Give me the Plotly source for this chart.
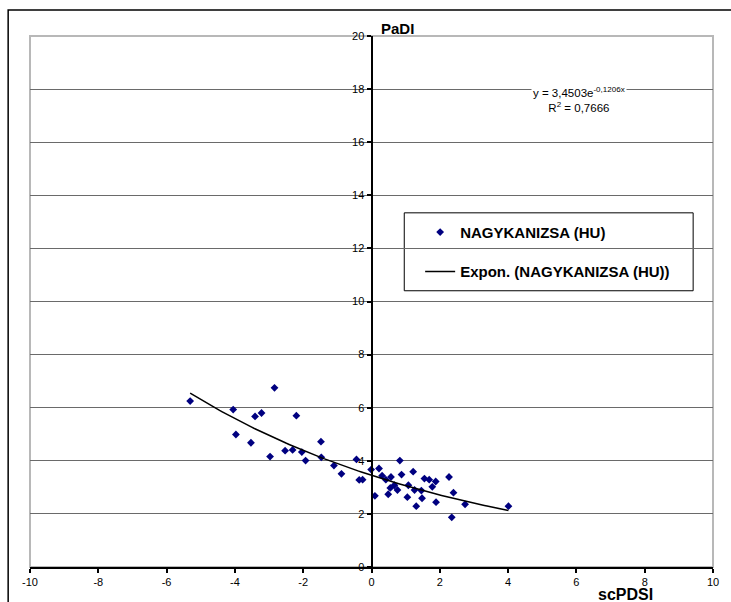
import numpy as np
import plotly.graph_objects as go

# ---- data ----
scpdsi = [-5.31, -4.05, -3.97, -3.53, -3.41, -3.22, -2.97, -2.84, -2.53, -2.31,
          -2.20, -2.04, -1.93, -1.48, -1.47, -1.10, -0.88, -0.44, -0.36, -0.26,
          -0.01, 0.10, 0.22, 0.31, 0.42, 0.49, 0.57, 0.55, 0.67, 0.76,
          0.83, 0.88, 1.05, 1.08, 1.22, 1.26, 1.31, 1.46, 1.48, 1.55,
          1.69, 1.78, 1.88, 1.89, 2.27, 2.35, 2.40, 2.74, 4.01]
padi = [6.25, 5.93, 4.99, 4.68, 5.67, 5.80, 4.16, 6.75, 4.38, 4.41,
        5.70, 4.33, 4.01, 4.72, 4.13, 3.82, 3.51, 4.05, 3.28, 3.29,
        3.67, 2.68, 3.71, 3.44, 3.29, 2.74, 3.39, 2.98, 3.08, 2.90,
        4.01, 3.48, 2.63, 3.08, 3.59, 2.90, 2.29, 2.88, 2.59, 3.33,
        3.29, 3.02, 3.22, 2.44, 3.39, 1.87, 2.80, 2.36, 2.29]
TREND_A = 3.4503
TREND_B = -0.1206
R2 = "0,7666"
x_ticks = [-10, -8, -6, -4, -2, 0, 2, 4, 6, 8, 10]
y_ticks = [0, 2, 4, 6, 8, 10, 12, 14, 16, 18, 20]
series_name = "NAGYKANIZSA (HU)"
trend_name = "Expon. (NAGYKANIZSA (HU))"

trend_x = np.linspace(min(scpdsi), max(scpdsi), 120)
trend_y = TREND_A * np.exp(TREND_B * trend_x)

FONT = "Arial, Liberation Sans, sans-serif"

fig = go.Figure()
fig.add_trace(go.Scatter(
    x=scpdsi, y=padi, mode="markers", name=series_name, legendgroup="a",
    marker=dict(symbol="diamond", size=6, color="#000080"),
))
fig.add_trace(go.Scatter(
    x=trend_x, y=trend_y, mode="lines", name=trend_name, legendgroup="b",
    line=dict(color="black", width=1.5),
))

W, H = 731, 602
L, R, T, B = 30, 13, 36, 34.5
pw, ph = W - L - R, H - T - B

def px(xp):
    return (xp - L) / pw

def py(yp):
    return (H - B - yp) / ph

fig.update_layout(
    width=W, height=H,
    margin=dict(l=L, r=R, t=T, b=B, pad=0),
    paper_bgcolor="white", plot_bgcolor="white",
    font=dict(family=FONT, size=11, color="black"),
    showlegend=True,
    legend=dict(
        x=px(423), y=py(216), xanchor="left", yanchor="top",
        bgcolor="rgba(0,0,0,0)", borderwidth=0,
        font=dict(family=FONT, size=15, color="black", weight="bold"),
        traceorder="grouped", tracegroupgap=17,
    ),
    xaxis=dict(
        range=[-10, 10], tickvals=x_ticks, ticktext=[str(v) for v in x_ticks],
        showgrid=False, zeroline=False,
        showline=True, linecolor="black", linewidth=2,
        ticks="outside", ticklen=4, tickwidth=1.5, tickcolor="black",
        tickfont=dict(size=11), fixedrange=True,
    ),
    yaxis=dict(
        range=[0, 20], tickvals=y_ticks, ticktext=[str(v) for v in y_ticks],
        showgrid=True, gridcolor="#6a6a6a", gridwidth=1.2,
        zeroline=False, anchor="free", position=0.5,
        showline=True, linecolor="black", linewidth=2,
        ticks="outside", ticklen=4, tickwidth=1.5, tickcolor="black",
        tickfont=dict(size=11), fixedrange=True,
    ),
    shapes=[
        # plot area border
        dict(type="rect", xref="paper", yref="paper", x0=0, x1=1, y0=0, y1=1,
             line=dict(color="#b8b8b8", width=2), layer="below"),
        # chart outer border
        dict(type="rect", xref="paper", yref="paper",
             x0=px(8), x1=px(740), y0=py(610), y1=py(10),
             line=dict(color="black", width=1.5), layer="above"),
        # legend box
        dict(type="rect", xref="paper", yref="paper",
             x0=px(407), x1=px(698), y0=py(291), y1=py(213),
             line=dict(color="black", width=1), fillcolor="white", layer="below"),
    ],
    annotations=[
        dict(text="<b>PaDI</b>", xref="paper", yref="paper", x=px(382), y=py(28),
             xanchor="left", yanchor="middle", showarrow=False,
             font=dict(size=15, family=FONT)),
        dict(text="<b>scPDSI</b>", xref="paper", yref="paper", x=px(600), y=py(585),
             xanchor="left", yanchor="top", showarrow=False,
             font=dict(size=16, family=FONT)),
        dict(text=f"y = {TREND_A:.4f}e<sup>{TREND_B:.4f}x</sup>".replace(".", ",")
             + f"<br>R<sup>2</sup> = {R2}",
             xref="paper", yref="paper", x=px(583), y=py(100),
             xanchor="center", yanchor="middle", showarrow=False, align="center",
             bgcolor="white", font=dict(size=11.5, family=FONT)),
    ],
)

fig.write_html("out.html", config={"displayModeBar": False},
               post_script="document.body.style.margin='0';document.body.style.padding='0';")
